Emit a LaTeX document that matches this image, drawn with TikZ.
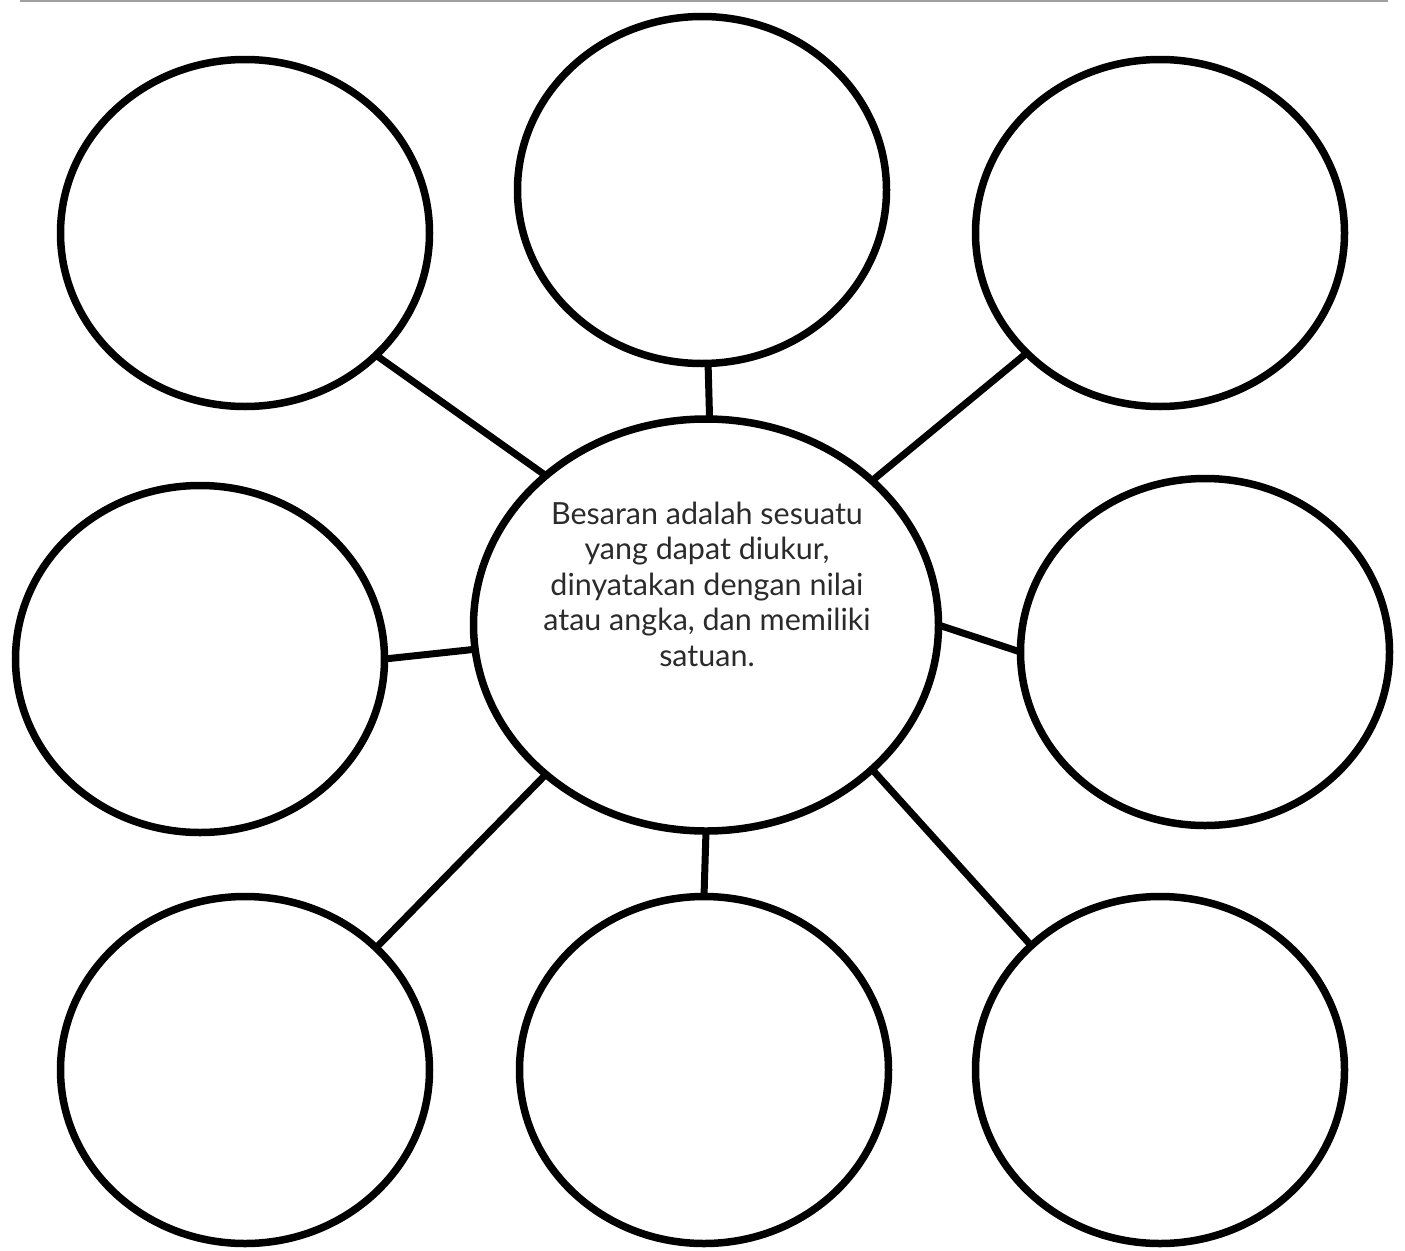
\documentclass[tikz,border=0pt]{standalone}
\usepackage{fontspec}
\setmainfont{Lato}
\usetikzlibrary{shapes.geometric}
\definecolor{txtgray}{HTML}{2B2B2B}
\definecolor{rulegray}{HTML}{A0A0A0}
\begin{document}
\begin{tikzpicture}[x=1pt,y=-1pt,
  bubble/.style={ellipse,draw=black,line width=7.5pt,fill=white,inner sep=0pt,outer sep=0pt,minimum width=369pt,minimum height=347pt},
  link/.style={draw=black,line width=7pt}]
\useasboundingbox (0,0) rectangle (1405,1250);
\fill[white] (0,0) rectangle (1405,1250);
\coordinate (ruleL) at (20,1);
\coordinate (ruleR) at (1388,1);
\draw[rulegray,line width=2pt] (ruleL) -- (ruleR);
% outer bubbles
\node[bubble] (tl) at (245,233) {};
\node[bubble] (tc) at (702,190) {};
\node[bubble] (tr) at (1160,233) {};
\node[bubble] (ml) at (200,659) {};
\node[bubble] (mr) at (1205,652) {};
\node[bubble] (bl) at (245,1070) {};
\node[bubble] (bc) at (704,1070) {};
\node[bubble] (br) at (1160,1070) {};
% center
\node[bubble,minimum width=465pt,minimum height=412pt] (c) at (706,625) {};
\node[text=txtgray,font=\fontsize{30.5}{35.5}\selectfont,align=center] (txt) at (707,584)
  {Besaran adalah sesuatu\\yang dapat diukur,\\dinyatakan dengan nilai\\atau angka, dan memiliki\\satuan.};
% connectors
\draw[link] (tl.-43) -- (c.137.8);
\draw[link] (tc.-88.7) -- (c.89.2);
\draw[link] (tr.-138.2) -- (c.41.8);
\draw[link] (ml.-0.3) -- (c.-174.7);
\draw[link] (mr.180) -- (c.-0.5);
\draw[link] (bl.43.5) -- (c.-137.7);
\draw[link] (bc.90) -- (c.-90);
\draw[link] (br.136.5) -- (c.-41.8);
\end{tikzpicture}
\end{document}
